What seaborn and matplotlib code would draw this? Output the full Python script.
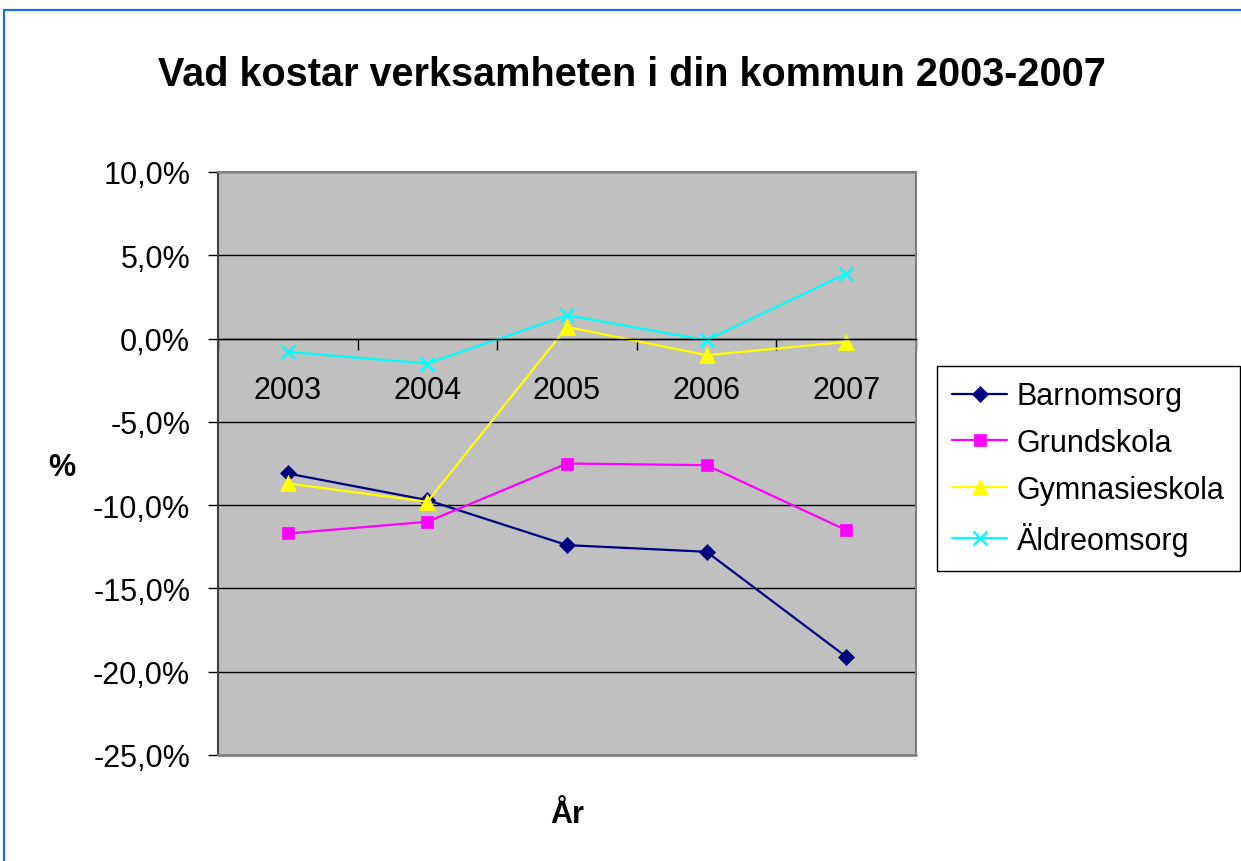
import matplotlib
matplotlib.use("Agg")
import matplotlib.pyplot as plt
import numpy as np
import pandas as pd
import seaborn as sns
from matplotlib.lines import Line2D
from matplotlib.ticker import FuncFormatter

# Annual cost change per activity (percent)
years = [2003, 2004, 2005, 2006, 2007]
year_labels = ["2003", "2004", "2005", "2006", "2007"]
series_names = ["Barnomsorg", "Grundskola", "Gymnasieskola", "Äldreomsorg"]
barnomsorg = [-8.1, -9.7, -12.4, -12.8, -19.1]
grundskola = [-11.7, -11.0, -7.5, -7.6, -11.5]
gymnasieskola = [-8.7, -9.8, 0.7, -1.0, -0.2]
aldreomsorg = [-0.8, -1.5, 1.4, -0.1, 3.9]

series_values = [barnomsorg, grundskola, gymnasieskola, aldreomsorg]
colors = {"Barnomsorg": "#000080", "Grundskola": "#ff00ff",
          "Gymnasieskola": "#ffff00", "Äldreomsorg": "#00ffff"}
marker_style = {"Barnomsorg": dict(marker="D", markersize=8, markeredgewidth=0.5),
                "Grundskola": dict(marker="s", markersize=9, markeredgewidth=0.5),
                "Gymnasieskola": dict(marker="^", markersize=11, markeredgewidth=0.5),
                "Äldreomsorg": dict(marker="x", markersize=10, markeredgewidth=1.8)}

rows = []
for name, vals in zip(series_names, series_values):
    for yr, v in zip(years, vals):
        rows.append({"År": yr, "Procent": v, "Verksamhet": name})
df = pd.DataFrame(rows)

sns.set_style("white")
plt.rcParams["font.family"] = ["Liberation Sans", "DejaVu Sans"]
for key in ("text.color", "axes.labelcolor", "xtick.color", "ytick.color"):
    plt.rcParams[key] = "black"

W, H = 1241, 862
fig = plt.figure(figsize=(W / 100, H / 100), dpi=100)
fig.patch.set_facecolor("white")

# Frame of the chart area
border_c = "#1a6fd4"
fig.add_artist(Line2D([3.7 / W, 1.0], [1 - 10.5 / H, 1 - 10.5 / H],
                      transform=fig.transFigure, color=border_c, lw=1.6))
fig.add_artist(Line2D([3.7 / W, 3.7 / W], [0.0, 1 - 10.5 / H],
                      transform=fig.transFigure, color=border_c, lw=1.6))

ax = fig.add_axes([218 / W, 1 - 756 / H, (916 - 218) / W, (756 - 173) / H])
ax.set_facecolor("#c0c0c0")

for name in series_names:
    sub = df[df["Verksamhet"] == name]
    c = colors[name]
    sns.lineplot(data=sub, x="År", y="Procent", color=c, label=name,
                 linewidth=1.6, markeredgecolor=c, ax=ax, **marker_style[name])

handles, labels = ax.get_legend_handles_labels()
if ax.get_legend() is not None:
    ax.get_legend().remove()

ax.set_xlim(years[0] - 0.5, years[-1] + 0.5)
ax.set_ylim(-25, 10)

# y axis
ax.set_yticks(np.arange(-25, 10.1, 5))
ax.yaxis.set_major_formatter(FuncFormatter(lambda v, p: f"{v:.1f}%".replace(".", ",")))
ax.tick_params(axis="y", direction="out", length=7, width=1, color="black",
               labelcolor="black", pad=13, labelsize=22, left=True)
ax.yaxis.grid(True, color="black", lw=1)
ax.set_axisbelow(True)

# x axis crossing at zero: tick marks between categories, labels centred
ax.spines["bottom"].set_position(("data", 0))
ax.spines["bottom"].set_color("black")
ax.spines["bottom"].set_linewidth(1)
bounds = [y - 0.5 for y in years] + [years[-1] + 0.5]
ax.set_xticks(bounds)
ax.set_xticklabels([""] * len(bounds))
ax.set_xticks(years, minor=True)
ax.set_xticklabels(year_labels, minor=True)
ax.tick_params(axis="x", which="major", direction="out", length=8, width=1,
               color="black", bottom=True)
ax.tick_params(axis="x", which="minor", length=0, pad=26, labelsize=22,
               labelcolor="black")
ax.set_xlabel("")
ax.set_ylabel("")

ax.spines["top"].set_color("#808080")
ax.spines["right"].set_color("#808080")
ax.spines["left"].set_color("#404040")
for s in ("top", "right", "left"):
    ax.spines[s].set_linewidth(1.5)
ax.axhline(-25, color="#808080", lw=2, zorder=2.6, clip_on=False)

fig.text(632 / W, 1 - 75 / H, "Vad kostar verksamheten i din kommun 2003-2007",
         ha="center", va="center", fontsize=28.5, fontweight="bold", color="black")
fig.text(62 / W, 1 - 468 / H, "%", ha="center", va="center",
         fontsize=22, fontweight="bold", color="black")
fig.text(567 / W, 1 - 815 / H, "År", ha="center", va="center",
         fontsize=22, fontweight="bold", color="black")

leg = fig.legend(handles, labels, loc="upper left",
                 bbox_to_anchor=(937 / W, 1 - 367 / H), fontsize=22,
                 frameon=True, fancybox=False, framealpha=1, edgecolor="black",
                 handlelength=1.8, handletextpad=0.3, labelspacing=0.55,
                 borderpad=0.5, borderaxespad=0, labelcolor="black")
leg.get_frame().set_linewidth(1)

fig.savefig("out.png", dpi=100, facecolor="white")
